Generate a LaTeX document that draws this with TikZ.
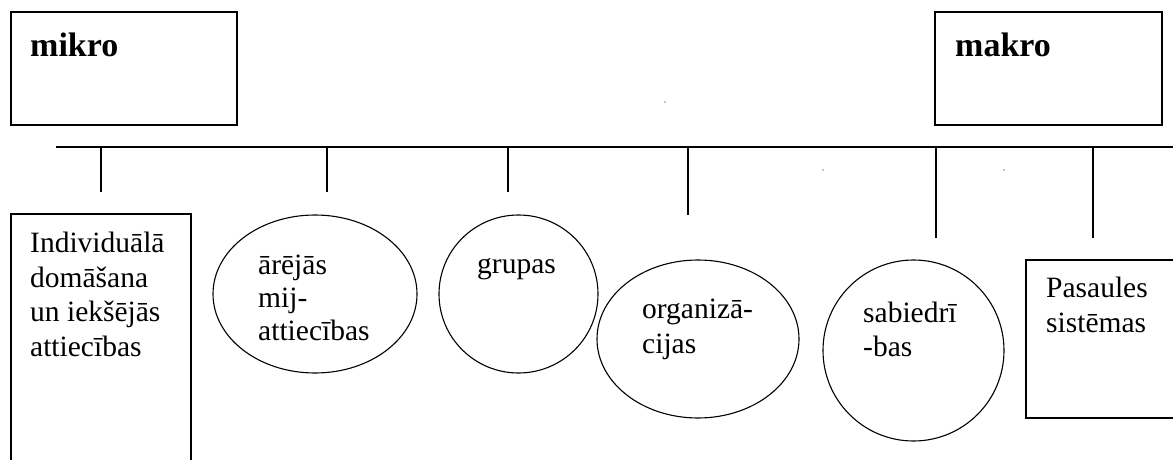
\documentclass[tikz,border=0pt]{standalone}
\usepackage{fontspec}
\setmainfont{Liberation Serif}
\usetikzlibrary{shapes.geometric}
\begin{document}
\begin{tikzpicture}[x=1pt,y=-1pt,
  rule/.style={line width=1.1pt, line cap=butt},
  frame/.style={line width=1.1pt},
  oval/.style={draw, ellipse, line width=1.1pt, inner sep=0pt},
  % multi-line labels are placed by the baseline of their last line
  label/.style={inner sep=0pt, anchor=base west, align=left,
    font=\fontsize{29.5}{34.5}\selectfont},
  head/.style={inner sep=0pt, anchor=base west,
    font=\fontsize{34}{40}\selectfont\bfseries},
  speck/.style={fill=black, inner sep=0pt, minimum size=1.4pt, circle}]
\useasboundingbox (0,0) rectangle (1173,460);

% scale ends
\draw[frame] (11,12) rectangle (237,125);
\node[head] (mikro) at (30,57) {mikro};
\draw[frame] (935,12) rectangle (1162,125);
\node[head] (makro) at (955,57) {makro};

% main axis with its ticks
\coordinate (axisL) at (56,147);
\coordinate (axisR) at (1173,147);
\draw[rule] (axisL) -- (axisR);
\foreach \n/\x/\len in {t1/101/45, t2/327/45, t3/508/45, t4/688/68, t5/936/91, t6/1093/91}{
  \coordinate (\n top) at (\x,147);
  \coordinate (\n end) at (\x,147+\len);
  \draw[rule] (\n top) -- (\n end);
}

% levels
\draw[frame] (11,460) -- (11,214) -- (191,214) -- (191,460);
\node[label] (indiv) at (30,356) {Individuālā\\domāšana\\un iekšējās\\attiecības};

\node[oval, minimum width=204pt, minimum height=158pt] (ext) at (315,294) {};
\node[label, font=\fontsize{29.5}{33.2}\selectfont] (exttxt) at (258,340.4) {ārējās\\mij-\\attiecības};

\node[oval, minimum width=159pt, minimum height=158pt] (grp) at (518.5,294) {};
\node[label] (grptxt) at (477,273) {grupas};

\node[oval, minimum width=202pt, minimum height=158pt] (org) at (698,339) {};
\node[label] (orgtxt) at (642,353) {organizā-\\cijas};

\node[oval, minimum width=181pt, minimum height=181pt] (soc) at (913.5,350.5) {};
\node[label] (soctxt) at (863,356.5) {sabiedrī\\-bas};

\draw[frame] (1174,260) -- (1026,260) -- (1026,418) -- (1174,418);
\node[label] (world) at (1046,332) {Pasaules\\sistēmas};

% stray marks
\node[speck] (d1) at (665,102) {};
\node[speck] (d2) at (823,170) {};
\node[speck] (d3) at (1004,170) {};
\end{tikzpicture}
\end{document}
